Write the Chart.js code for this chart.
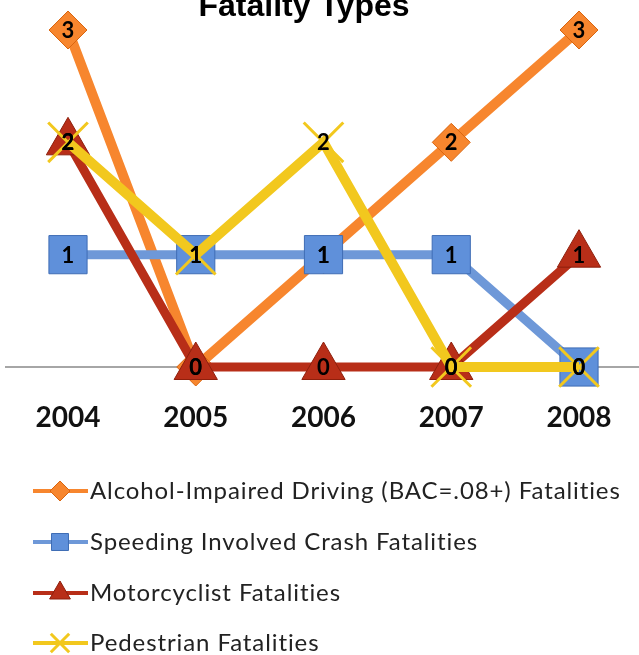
<!DOCTYPE html>
<html>
<head>
<meta charset="utf-8">
<script src="https://cdn.jsdelivr.net/npm/chart.js@4/dist/chart.umd.min.js"></script>
<style>
  html, body { margin: 0; padding: 0; background: #fff; }
  #wrap { width: 639px; height: 655px; }
</style>
</head>
<body>
<div id="wrap"><canvas id="chart" width="639" height="655"></canvas></div>
<script>
// chart data
const years = ['2004', '2005', '2006', '2007', '2008'];
const alcohol = [3, 0, 1, 2, 3];
const speeding = [1, 1, 1, 1, 0];
const motorcyclist = [2, 0, 0, 0, 1];
const pedestrian = [2, 1, 2, 0, 0];
const seriesNames = [
  'Alcohol-Impaired Driving (BAC=.08+) Fatalities',
  'Speeding Involved Crash Fatalities',
  'Motorcyclist Fatalities',
  'Pedestrian Fatalities'
];
const chartTitle = 'Fatality Types';

var Fig = {
  colors: {
    orange: '#F7862E', orangeDark: '#D9650F',
    blue: '#6E98D8', blueDark: '#3F6DB5',
    red: '#B82E18', redDark: '#8E1F0C',
    yellow: '#F2C81E'
  },

  // grey base line at 0, running across the whole width
  baseLinePlugin: {
    id: 'baseLine',
    beforeDatasetsDraw: function(chart) {
      let ctx = chart.ctx;
      let y = chart.scales.y.getPixelForValue(0);
      ctx.save();
      ctx.strokeStyle = '#A6A6A6';
      ctx.lineWidth = 2;
      ctx.beginPath();
      ctx.moveTo(5, y);
      ctx.lineTo(chart.width, y);
      ctx.stroke();
      ctx.restore();
    }
  },

  // title sits partly above the canvas like in the original
  titlePlugin: {
    id: 'cutTitle',
    afterDraw: function(chart) {
      let ctx = chart.ctx;
      ctx.save();
      ctx.font = 'bold 32px "Liberation Sans", Arial, sans-serif';
      ctx.fillStyle = '#000';
      ctx.textAlign = 'center';
      ctx.textBaseline = 'alphabetic';
      ctx.fillText(chartTitle, 304, 16);
      ctx.restore();
    }
  },

  // numbers inside the markers
  labelPlugin: {
    id: 'pointLabels',
    afterDatasetsDraw: function(chart) {
      let ctx = chart.ctx;
      ctx.save();
      ctx.font = 'bold 22px Lato, "Open Sans", sans-serif';
      ctx.fillStyle = '#000';
      ctx.textAlign = 'center';
      ctx.textBaseline = 'middle';
      chart.data.datasets.forEach(function(ds, i) {
        chart.getDatasetMeta(i).data.forEach(function(pt, j) {
          ctx.fillText(String(ds.data[j]), pt.x, pt.y + 1);
        });
      });
      ctx.restore();
    }
  },

  // legend with a line + marker sample
  legendPlugin: {
    id: 'lineLegend',
    afterDraw: function(chart) {
      let ctx = chart.ctx;
      let rows = [491, 542, 593, 643];
      let sizes = [10, 12, 12, 13];
      chart.data.datasets.forEach(function(ds, i) {
        let y = rows[i];
        ctx.save();
        ctx.strokeStyle = ds.borderColor;
        ctx.lineWidth = 4;
        ctx.beginPath();
        ctx.moveTo(33, y);
        ctx.lineTo(88, y);
        ctx.stroke();
        ctx.fillStyle = ds.pointBackgroundColor;
        ctx.strokeStyle = ds.pointBorderColor;
        ctx.lineWidth = ds.pointBorderWidth;
        Chart.helpers.drawPoint(ctx, {
          pointStyle: ds.pointStyle, radius: sizes[i], rotation: 0, borderWidth: ds.pointBorderWidth
        }, 60, y);
        ctx.font = '24px Lato, "Open Sans", sans-serif';
        ctx.letterSpacing = '0.9px';
        ctx.fillStyle = '#222';
        ctx.textAlign = 'left';
        ctx.textBaseline = 'alphabetic';
        ctx.fillText(seriesNames[i], 90, y + 8);
        ctx.restore();
      });
    }
  },

  datasets: function() {
    let c = Fig.colors;
    return [
      {
        label: seriesNames[0], data: alcohol, order: 4,
        borderColor: c.orange, borderWidth: 10,
        pointStyle: 'rectRot', pointRadius: 19, pointHoverRadius: 19,
        pointBackgroundColor: c.orange, pointBorderColor: c.orangeDark, pointBorderWidth: 1
      },
      {
        label: seriesNames[1], data: speeding, order: 3,
        borderColor: c.blue, borderWidth: 9,
        pointStyle: 'rect', pointRadius: 27, pointHoverRadius: 27,
        pointBackgroundColor: '#5F90DA', pointBorderColor: c.blueDark, pointBorderWidth: 1
      },
      {
        label: seriesNames[2], data: motorcyclist, order: 2,
        borderColor: c.red, borderWidth: 9,
        pointStyle: 'triangle', pointRadius: 25, pointHoverRadius: 25,
        pointBackgroundColor: c.red, pointBorderColor: c.redDark, pointBorderWidth: 1
      },
      {
        label: seriesNames[3], data: pedestrian, order: 1,
        borderColor: c.yellow, borderWidth: 10,
        pointStyle: 'crossRot', pointRadius: 28, pointHoverRadius: 28,
        pointBackgroundColor: c.yellow, pointBorderColor: c.yellow, pointBorderWidth: 3
      }
    ].map(function(ds) {
      ds.fill = false;
      ds.tension = 0;
      ds.clip = false;
      return ds;
    });
  },

  init: function() {
    new Chart(document.getElementById('chart'), {
      type: 'line',
      data: { labels: years, datasets: Fig.datasets() },
      options: {
        responsive: false,
        animation: false,
        layout: { autoPadding: false, padding: { top: 30, left: 68, right: 60, bottom: 0 } },
        plugins: {
          legend: { display: false },
          title: { display: false },
          tooltip: { enabled: false }
        },
        scales: {
          x: {
            offset: false,
            grid: { display: false, drawTicks: false },
            border: { display: false },
            ticks: {
              color: '#111',
              padding: 34,
              font: { family: 'Lato, "Open Sans", sans-serif', size: 28, weight: 'bold' }
            },
            afterFit: function(scale) {
              scale.height = 288;
              // tick padding is otherwise added to the side gaps
              scale.paddingLeft = 0;
              scale.paddingRight = 0;
            }
          },
          y: { min: 0, max: 3, display: false }
        }
      },
      plugins: [Fig.baseLinePlugin, Fig.labelPlugin, Fig.titlePlugin, Fig.legendPlugin]
    });
  }
};

Fig.init();
</script>
</body>
</html>
